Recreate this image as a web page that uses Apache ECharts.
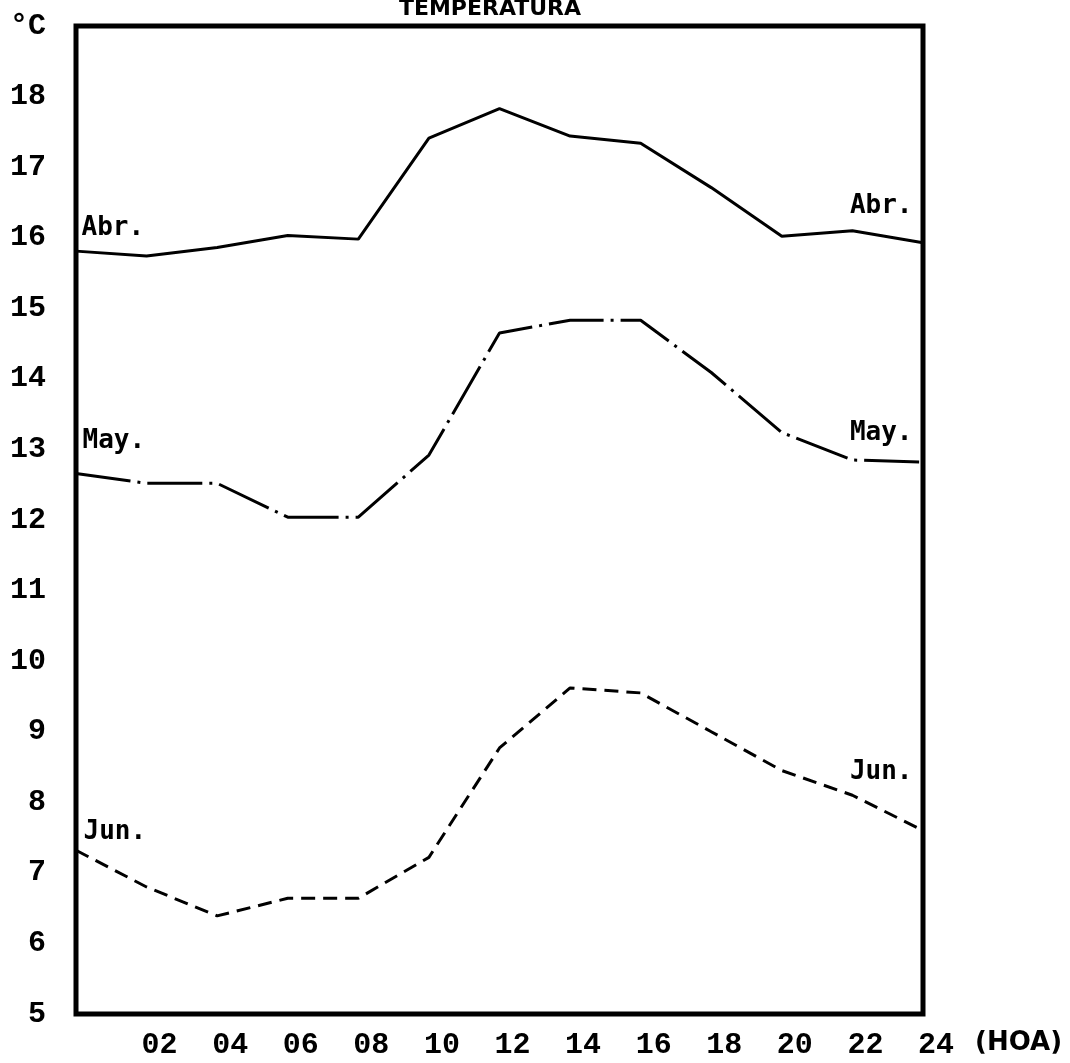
<!DOCTYPE html>
<html>
<head>
<meta charset="utf-8">
<script src="https://cdn.jsdelivr.net/npm/echarts@6/dist/echarts.min.js"></script>
<style>
html,body{margin:0;padding:0;background:#fff;}
#chart{width:1070px;height:1063px;}
</style>
</head>
<body>
<div id="chart"></div>
<script>
// Hours of the day (HOA)
var hours = [0, 2, 4, 6, 8, 10, 12, 14, 16, 18, 20, 22, 24];
// Mean temperature (°C) per month
var abr = [15.81, 15.74, 15.86, 16.03, 15.98, 17.41, 17.83, 17.44, 17.34, 16.71, 16.02, 16.10, 15.93];
var may = [12.66, 12.52, 12.52, 12.04, 12.04, 12.92, 14.65, 14.83, 14.83, 14.09, 13.24, 12.85, 12.82];
var jun = [7.32, 6.80, 6.39, 6.64, 6.64, 7.22, 8.77, 9.62, 9.55, 9.00, 8.45, 8.10, 7.60];
var seriesNames = ['Abr.', 'May.', 'Jun.'];
// Tick labels
var xLabels = ['', '02', '04', '06', '08', '10', '12', '14', '16', '18', '20', '22', '24'];
var yLabels = ['5', '6', '7', '8', '9', '10', '11', '12', '13', '14', '15', '16', '17', '18', '°C'];

var chart = echarts.init(document.getElementById('chart'));

var labelFont = {
  show: true,
  color: '#000',
  fontFamily: 'DejaVu Sans Mono',
  fontWeight: 'bold',
  fontSize: 26,
  verticalAlign: 'middle'
};

function buildData(vals, name, leftPos, rightPos) {
  return vals.map(function (v, i) {
    var item = { value: [hours[i], v] };
    if (i === 0) {
      item.label = Object.assign({}, labelFont, { formatter: name, position: leftPos, align: 'left' });
    } else if (i === vals.length - 1) {
      item.label = Object.assign({}, labelFont, { formatter: name, position: rightPos, align: 'right' });
    }
    return item;
  });
}

function lineSeries(vals, name, lineStyle, leftPos, rightPos) {
  return {
    type: 'line',
    name: name,
    data: buildData(vals, name, leftPos, rightPos),
    symbol: 'circle',
    symbolSize: 1,
    showSymbol: true,
    itemStyle: { color: 'rgba(0,0,0,0)', borderWidth: 0 },
    label: { show: false },
    labelLayout: { hideOverlap: false },
    lineStyle: lineStyle,
    emphasis: { disabled: true },
    animation: false,
    z: 3
  };
}

var option = {
  backgroundColor: '#fff',
  animation: false,
  title: {
    text: 'TEMPERATURA',
    left: 485,
    textAlign: 'center',
    top: -7,
    textStyle: { fontFamily: 'DejaVu Sans', fontWeight: 'bold', fontSize: 22, color: '#000' }
  },
  grid: {
    left: 76, right: 147, top: 26, bottom: 49,
    show: true,
    borderColor: '#000',
    borderWidth: 5,
    backgroundColor: 'transparent'
  },
  xAxis: {
    type: 'value',
    min: 0, max: 24, interval: 2,
    axisLine: { show: false },
    axisTick: { show: false },
    splitLine: { show: false },
    axisLabel: {
      color: '#000',
      fontFamily: 'Liberation Mono',
      fontWeight: 'bold',
      fontSize: 30,
      margin: 16,
      padding: [0, 0, 0, 26],
      formatter: function (v) { return xLabels[Math.round(v / 2)]; }
    }
  },
  yAxis: {
    type: 'value',
    min: 5, max: 19, interval: 1,
    axisLine: { show: false },
    axisTick: { show: false },
    splitLine: { show: false },
    axisLabel: {
      color: '#000',
      fontFamily: 'Liberation Mono',
      fontWeight: 'bold',
      fontSize: 30,
      margin: 30,
      formatter: function (v) { return yLabels[Math.round(v - 5)]; }
    }
  },
  graphic: [
    {
      type: 'text',
      left: 975,
      top: 1030,
      style: { text: '(HOA)', fill: '#000', font: 'bold 26px "DejaVu Sans"' }
    }
  ],
  series: [
    lineSeries(abr, seriesNames[0], { color: '#000', width: 3 }, [6, -22], [-10, -36]),
    lineSeries(may, seriesNames[1], { color: '#000', width: 3, type: [55, 7, 3, 7] }, [7, -32], [-10, -28]),
    lineSeries(jun, seriesNames[2], { color: '#000', width: 3, type: [14, 8] }, [8, -18], [-10, -58])
  ]
};

chart.setOption(option);
</script>
</body>
</html>
